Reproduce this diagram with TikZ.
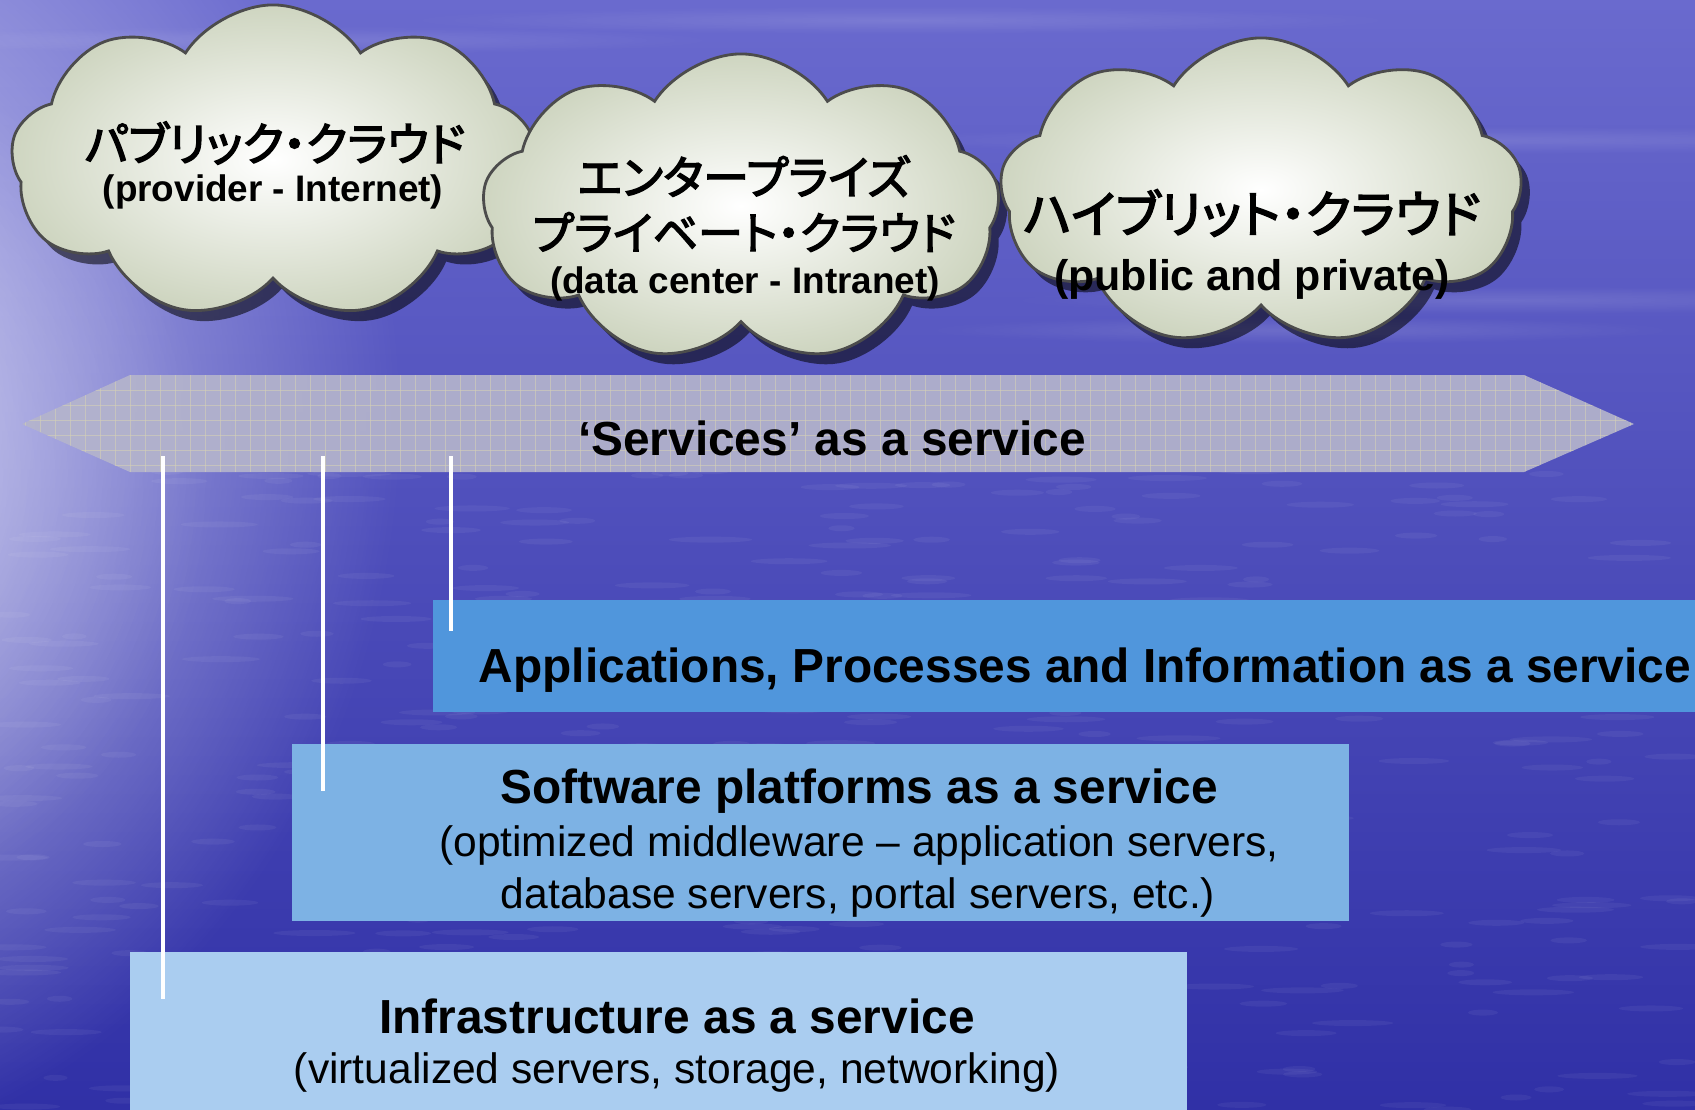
\documentclass[tikz,border=0pt]{standalone}
\usepackage{fontspec}
\setmainfont{Liberation Sans}
\newfontfamily\jpfont[RawFeature=+palt,FakeBold=3]{Noto Sans CJK JP}
\usepackage{tikz}
\usetikzlibrary{shapes.symbols,shadows,fadings}
\usetikzlibrary{positioning}
\tikzfading[name=soft out,inner color=transparent!0,outer color=transparent!100]
\definecolor{bgtop}{RGB}{106,106,206}
\definecolor{bgbot}{RGB}{48,48,166}
\definecolor{glow}{RGB}{218,218,246}
\definecolor{cloudgrey}{RGB}{206,213,192}
\definecolor{bandgrey}{RGB}{180,180,204}
\definecolor{gridbeige}{RGB}{212,208,182}
\definecolor{appblue}{RGB}{80,150,220}
\definecolor{softblue}{RGB}{125,178,228}
\definecolor{infrablue}{RGB}{170,205,240}
\tikzset{
    puff/.style={cloud,cloud puffs=9,cloud puff arc=115,cloud ignores aspect,draw=black!70,line width=0.8pt,inner color=white,outer color=cloudgrey,drop shadow={shadow xshift=2.5pt,shadow yshift=-3pt,fill=black,opacity=0.55}},
    jptext/.style={font=\jpfont\fontsize{13.1}{15}\selectfont,inner sep=0pt},
    tag/.style={font=\bfseries\fontsize{10.5}{13}\selectfont,inner sep=0pt},
    head/.style={font=\bfseries\fontsize{13.6}{16}\selectfont,inner sep=0pt},
    note/.style={font=\fontsize{12.1}{14}\selectfont,inner sep=0pt},
    layer/.style={rectangle,inner sep=0pt,anchor=north west},
    riser/.style={draw=white,line width=1.4pt},
}

\begin{document}
\begin{tikzpicture}[x=0.01cm,y=-0.01cm]
\useasboundingbox (0,0) rectangle (1695,1109);
\clip (0,0) rectangle (1695,1109);
% sky and water
\shade[top color=bgtop,bottom color=bgbot] (0,0) rectangle (1695,1109);
\fill[glow,path fading=soft out] (-300,420) ellipse (700 and 760);
\fill[white,opacity=0.3,path fading=soft out] (-150,480) ellipse (360 and 420);
\foreach \x/\y/\w in {300/40/420,900/20/500,1450/140/600,500/230/500,1500/300/500,1300/330/380}
    \fill[white,opacity=0.12,path fading=soft out] (\x,\y) ellipse ({\w} and 14);
\pgfmathsetseed{11}
\foreach \k in {1,...,420}{
    \pgfmathsetmacro\rx{1695*rnd}
    \pgfmathsetmacro\ry{470+640*rnd}
    \pgfmathsetmacro\rw{12+30*rnd}
    \fill[white,opacity=0.05] (\rx,\ry) ellipse ({\rw} and 3);
}

% clouds
\node[puff,minimum width=5.24cm,minimum height=3.14cm] (C1) at (273,162) {};
\node[puff,minimum width=5.17cm,minimum height=3.08cm] (C2) at (741,208) {};
\node[puff,minimum width=5.22cm,minimum height=3.08cm] (C3) at (1261,192) {};
\node[jptext] (C1a) at (275,143) {パブリック・クラウド};
\node[tag] (C1b) at (273,192) {(provider - Internet)};
\node[jptext] (C2a) at (744,176) {エンタープライズ};
\node[jptext,font=\jpfont\fontsize{12.8}{15}\selectfont] (C2b) at (744,232) {プライベート・クラウド};
\node[tag] (C2c) at (745,284) {(data center - Intranet)};
\node[jptext,font=\jpfont\fontsize{14.4}{17}\selectfont] (C3a) at (1252,213) {ハイブリット・クラウド};
\node[tag,font=\bfseries\fontsize{12.2}{14}\selectfont] (C3b) at (1252,279) {(public and private)};

% services band
\fill[bandgrey,opacity=0.92] (22,424) -- (130,375) -- (1524,375) -- (1634,424) -- (1524,472) -- (130,472) -- cycle;
\begin{scope}
\clip (22,424) -- (130,375) -- (1524,375) -- (1634,424) -- (1524,472) -- (130,472) -- cycle;
\foreach \x in {25,40,...,1634} \draw[gridbeige,line width=0.25pt,opacity=0.6] (\x,375) -- (\x,472);
\foreach \y in {390,405,...,472} \draw[gridbeige,line width=0.25pt,opacity=0.6] (0,\y) -- (1695,\y);
\end{scope}
\node[head] (S) at (832,438) {‘Services’ as a service};

% layers
\node[layer,fill=appblue,minimum width=13.5cm,minimum height=1.12cm] (A) at (432,599) {};
\node[layer,fill=softblue,minimum width=10.57cm,minimum height=1.77cm] (P) at (291,743) {};
\node[layer,fill=infrablue,minimum width=10.57cm,minimum height=1.8cm] (I) at (129,951) {};
\node[head] (Aa) at (1085,670) {Applications, Processes and Information as a service};
\node[head] (Pa) at (859,791) {Software platforms as a service};
\node[note] (Pb) at (859,845) {(optimized middleware – application servers,};
\node[note] (Pc) at (858,897) {database servers, portal servers, etc.)};
\node[head] (Ia) at (677,1016) {Infrastructure as a service};
\node[note] (Ib) at (677,1072) {(virtualized servers, storage, networking)};

% risers
\coordinate (r1) at (163,456); \coordinate (e1) at (163,999);
\coordinate (r2) at (323,456); \coordinate (e2) at (323,791);
\coordinate (r3) at (451,456); \coordinate (e3) at (451,631);
\draw[riser] (r1) -- (e1);
\draw[riser] (r2) -- (e2);
\draw[riser] (r3) -- (e3);
\end{tikzpicture}
\end{document}
